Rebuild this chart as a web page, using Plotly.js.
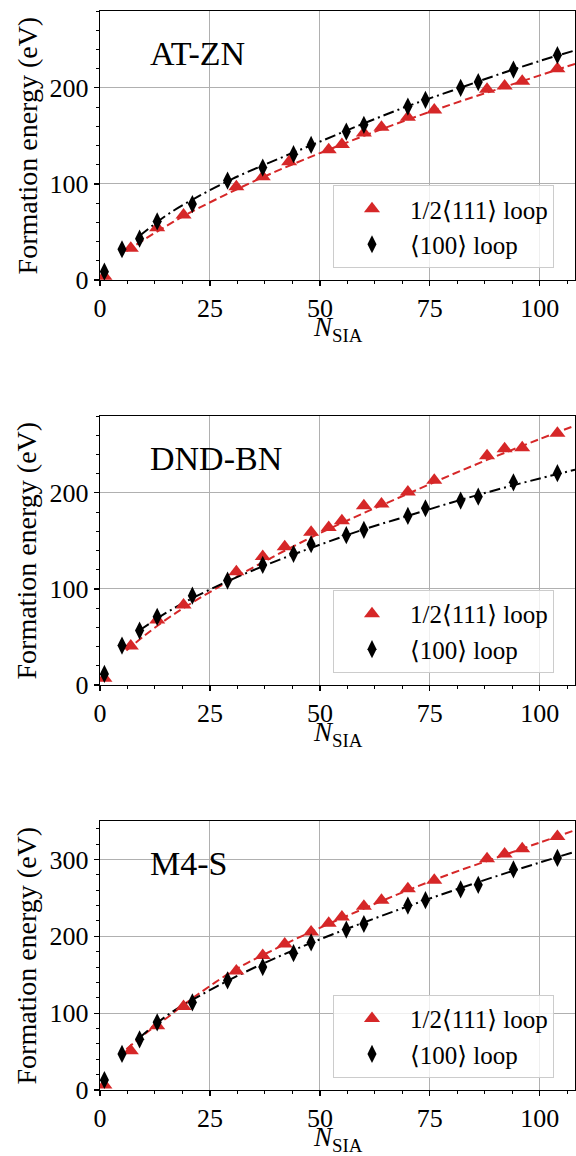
<!DOCTYPE html>
<html>
<head>
<meta charset="utf-8">
<script src="https://cdn.plot.ly/plotly-3.0.1.min.js"></script>
<style>html,body{margin:0;padding:0;background:#fff;}</style>
</head>
<body>
<div id="chart" style="width:576px;height:1156px;"></div>
<script>
// ---------- data ----------
const panelNames = ["AT-ZN", "DND-BN", "M4-S"];
const legendNames = ["1/2\u27E8111\u27E9 loop", "\u27E8100\u27E9 loop"];

const nLoop111_AT = [1, 7, 13, 19, 31, 37, 43, 52, 55, 60, 64, 70, 76, 88, 92, 96, 104];
const nLoop111 = [1, 7, 13, 19, 31, 37, 42, 48, 52, 55, 60, 64, 70, 76, 88, 92, 96, 104];
const nLoop100 = [1, 5, 9, 13, 21, 29, 37, 44, 48, 56, 60, 70, 74, 82, 86, 94, 104];

const e111_AT = [4, 33, 54.5, 67.7, 97, 107.5, 123, 135.5, 141, 153, 159, 169.4, 177, 198.6, 202, 207, 220];
const e100_AT = [8.7, 32, 43, 61, 79, 103.5, 117, 131, 140.6, 154.5, 161.5, 180.5, 187.5, 200, 206, 219, 234];

const e111_DND = [7, 40.6, 67.7, 83.3, 118, 133.7, 144, 159, 164, 171, 186.5, 188.5, 201, 213, 238.5, 246, 247, 262];
const e100_DND = [11.5, 41, 56.6, 71, 93, 108.7, 125, 136.5, 146.5, 156, 161.5, 176, 184, 192, 196, 211, 220.5];

const e111_M4 = [6.5, 51, 83.5, 108.7, 155, 175, 190, 205.7, 217, 225, 239, 247, 262, 273, 301, 307, 314, 330];
const e100_M4 = [13, 47, 66, 88, 114, 142.6, 160, 178, 192, 208.7, 216, 240, 247, 261, 267, 287, 302];

// fitted curves
const fitN111 = [6, 10, 15, 20, 30, 40, 50, 60, 70, 80, 90, 100, 108];
const fitN100 = [9, 15, 20, 30, 40, 50, 60, 70, 80, 90, 100, 108];
const fit111_AT = [30, 42, 56, 69, 92, 113, 132, 150, 167, 183, 198, 213, 225];
const fit100_AT = [46, 67, 81, 105, 125, 144, 163, 181, 197, 213, 228, 239];
const fit111_DND = [36, 51, 68, 83, 110, 135, 158, 179, 199, 219, 238, 256, 270];
const fit100_DND = [57, 75, 88, 110, 129, 146, 162, 176, 190, 203, 215, 224];
const fit111_M4 = [53, 72, 93, 115, 154, 184, 211, 236, 260, 282, 302, 322, 338];
const fit100_M4 = [68, 96, 114, 145, 172, 196, 218, 239, 259, 278, 296, 310];

const yMax = [280, 280, 350];
const xTicks = [0, 25, 50, 75, 100];

// ---------- styling ----------
const RED = "#d62728";
const FONT = "'Liberation Serif', 'DejaVu Serif', serif";

const panels = [
  {n111: nLoop111_AT, e111: e111_AT, e100: e100_AT, f111: fit111_AT, f100: fit100_AT},
  {n111: nLoop111, e111: e111_DND, e100: e100_DND, f111: fit111_DND, f100: fit100_DND},
  {n111: nLoop111, e111: e111_M4, e100: e100_M4, f111: fit111_M4, f100: fit100_M4}
];

const traces = [];
panels.forEach((p, i) => {
  const xa = i === 0 ? "x" : "x" + (i + 1);
  const ya = i === 0 ? "y" : "y" + (i + 1);
  const lg = i === 0 ? "legend" : "legend" + (i + 1);
  traces.push({x: fitN111, y: p.f111, xaxis: xa, yaxis: ya, mode: "lines", showlegend: false,
    line: {color: RED, width: 2, dash: "8px,4px", shape: "spline"}, hoverinfo: "skip"});
  traces.push({x: fitN100, y: p.f100, xaxis: xa, yaxis: ya, mode: "lines", showlegend: false,
    line: {color: "black", width: 2, dash: "11px,4px,2px,4px", shape: "spline"}, hoverinfo: "skip"});
  traces.push({x: p.n111, y: p.e111, xaxis: xa, yaxis: ya, mode: "markers", name: legendNames[0], legend: lg,
    marker: {symbol: "triangle-up", size: 14, color: RED}});
  traces.push({x: nLoop100, y: p.e100, xaxis: xa, yaxis: ya, mode: "markers", name: legendNames[1], legend: lg,
    marker: {symbol: "diamond-tall", size: 13, color: "black"}});
});

// geometry in paper fractions
const domains = [[0.75070, 1.0], [0.37535, 0.62465], [0.0, 0.24930]];
const legendBottom = [0.7618, 0.3865, 0.0114];
const xTitleY = [0.7056, 0.3303, -0.0451];
const yTitleY = [0.8754, 0.5000, 0.12465];

const layout = {
  width: 576, height: 1156,
  margin: {l: 100, r: 1, t: 11, b: 66},
  paper_bgcolor: "white", plot_bgcolor: "white",
  font: {family: FONT, color: "black", size: 25},
  annotations: []
};

for (let i = 0; i < 3; i++) {
  const sfx = i === 0 ? "" : String(i + 1);
  layout["xaxis" + sfx] = {
    anchor: "y" + sfx, domain: [0, 1], range: [0, 108],
    tickvals: xTicks, ticks: "outside", ticklen: 5, tickwidth: 1.2, tickcolor: "black",
    showline: true, linecolor: "black", linewidth: 1.2, mirror: true,
    showgrid: true, gridcolor: "#b0b0b0", gridwidth: 1, zeroline: false,
    minor: {dtick: 6.25, tick0: 0, ticks: "outside", ticklen: 3, tickwidth: 1, tickcolor: "black", showgrid: false},
    tickfont: {family: FONT, size: 26, color: "black"}
  };
  layout["yaxis" + sfx] = {
    anchor: "x" + sfx, domain: domains[i], range: [0, yMax[i]],
    dtick: 100, tick0: 0, ticks: "outside", ticklen: 5, tickwidth: 1.2, tickcolor: "black",
    showline: true, linecolor: "black", linewidth: 1.2, mirror: true,
    showgrid: true, gridcolor: "#b0b0b0", gridwidth: 1, zeroline: false,
    minor: {dtick: 20, tick0: 0, ticks: "outside", ticklen: 3, tickwidth: 1, tickcolor: "black", showgrid: false},
    tickfont: {family: FONT, size: 26, color: "black"}
  };
  layout[i === 0 ? "legend" : "legend" + (i + 1)] = {
    x: 0.4905, y: legendBottom[i], xanchor: "left", yanchor: "bottom",
    bgcolor: "rgba(255,255,255,0.8)", bordercolor: "#cccccc", borderwidth: 1,
    font: {family: FONT, size: 25, color: "black"}, itemwidth: 66
  };
  layout.annotations.push({
    xref: "paper", yref: "paper", x: 0.5, y: xTitleY[i], xanchor: "center", yanchor: "middle",
    text: "<i>N</i><sub>SIA</sub>", showarrow: false, font: {family: FONT, size: 27, color: "black"}
  });
  layout.annotations.push({
    xref: "paper", yref: "paper", x: -0.1537, y: yTitleY[i], xanchor: "center", yanchor: "middle",
    textangle: -90, text: "Formation energy (eV)", showarrow: false, font: {family: FONT, size: 28, color: "black"}
  });
  layout.annotations.push({
    xref: "x" + sfx + " domain", yref: "y" + sfx + " domain", x: 0.101, y: 0.843, xanchor: "left", yanchor: "middle",
    text: panelNames[i], showarrow: false, font: {family: FONT, size: 34, color: "black"}
  });
}

Plotly.newPlot("chart", traces, layout, {staticPlot: true, displayModeBar: false});
</script>
</body>
</html>
